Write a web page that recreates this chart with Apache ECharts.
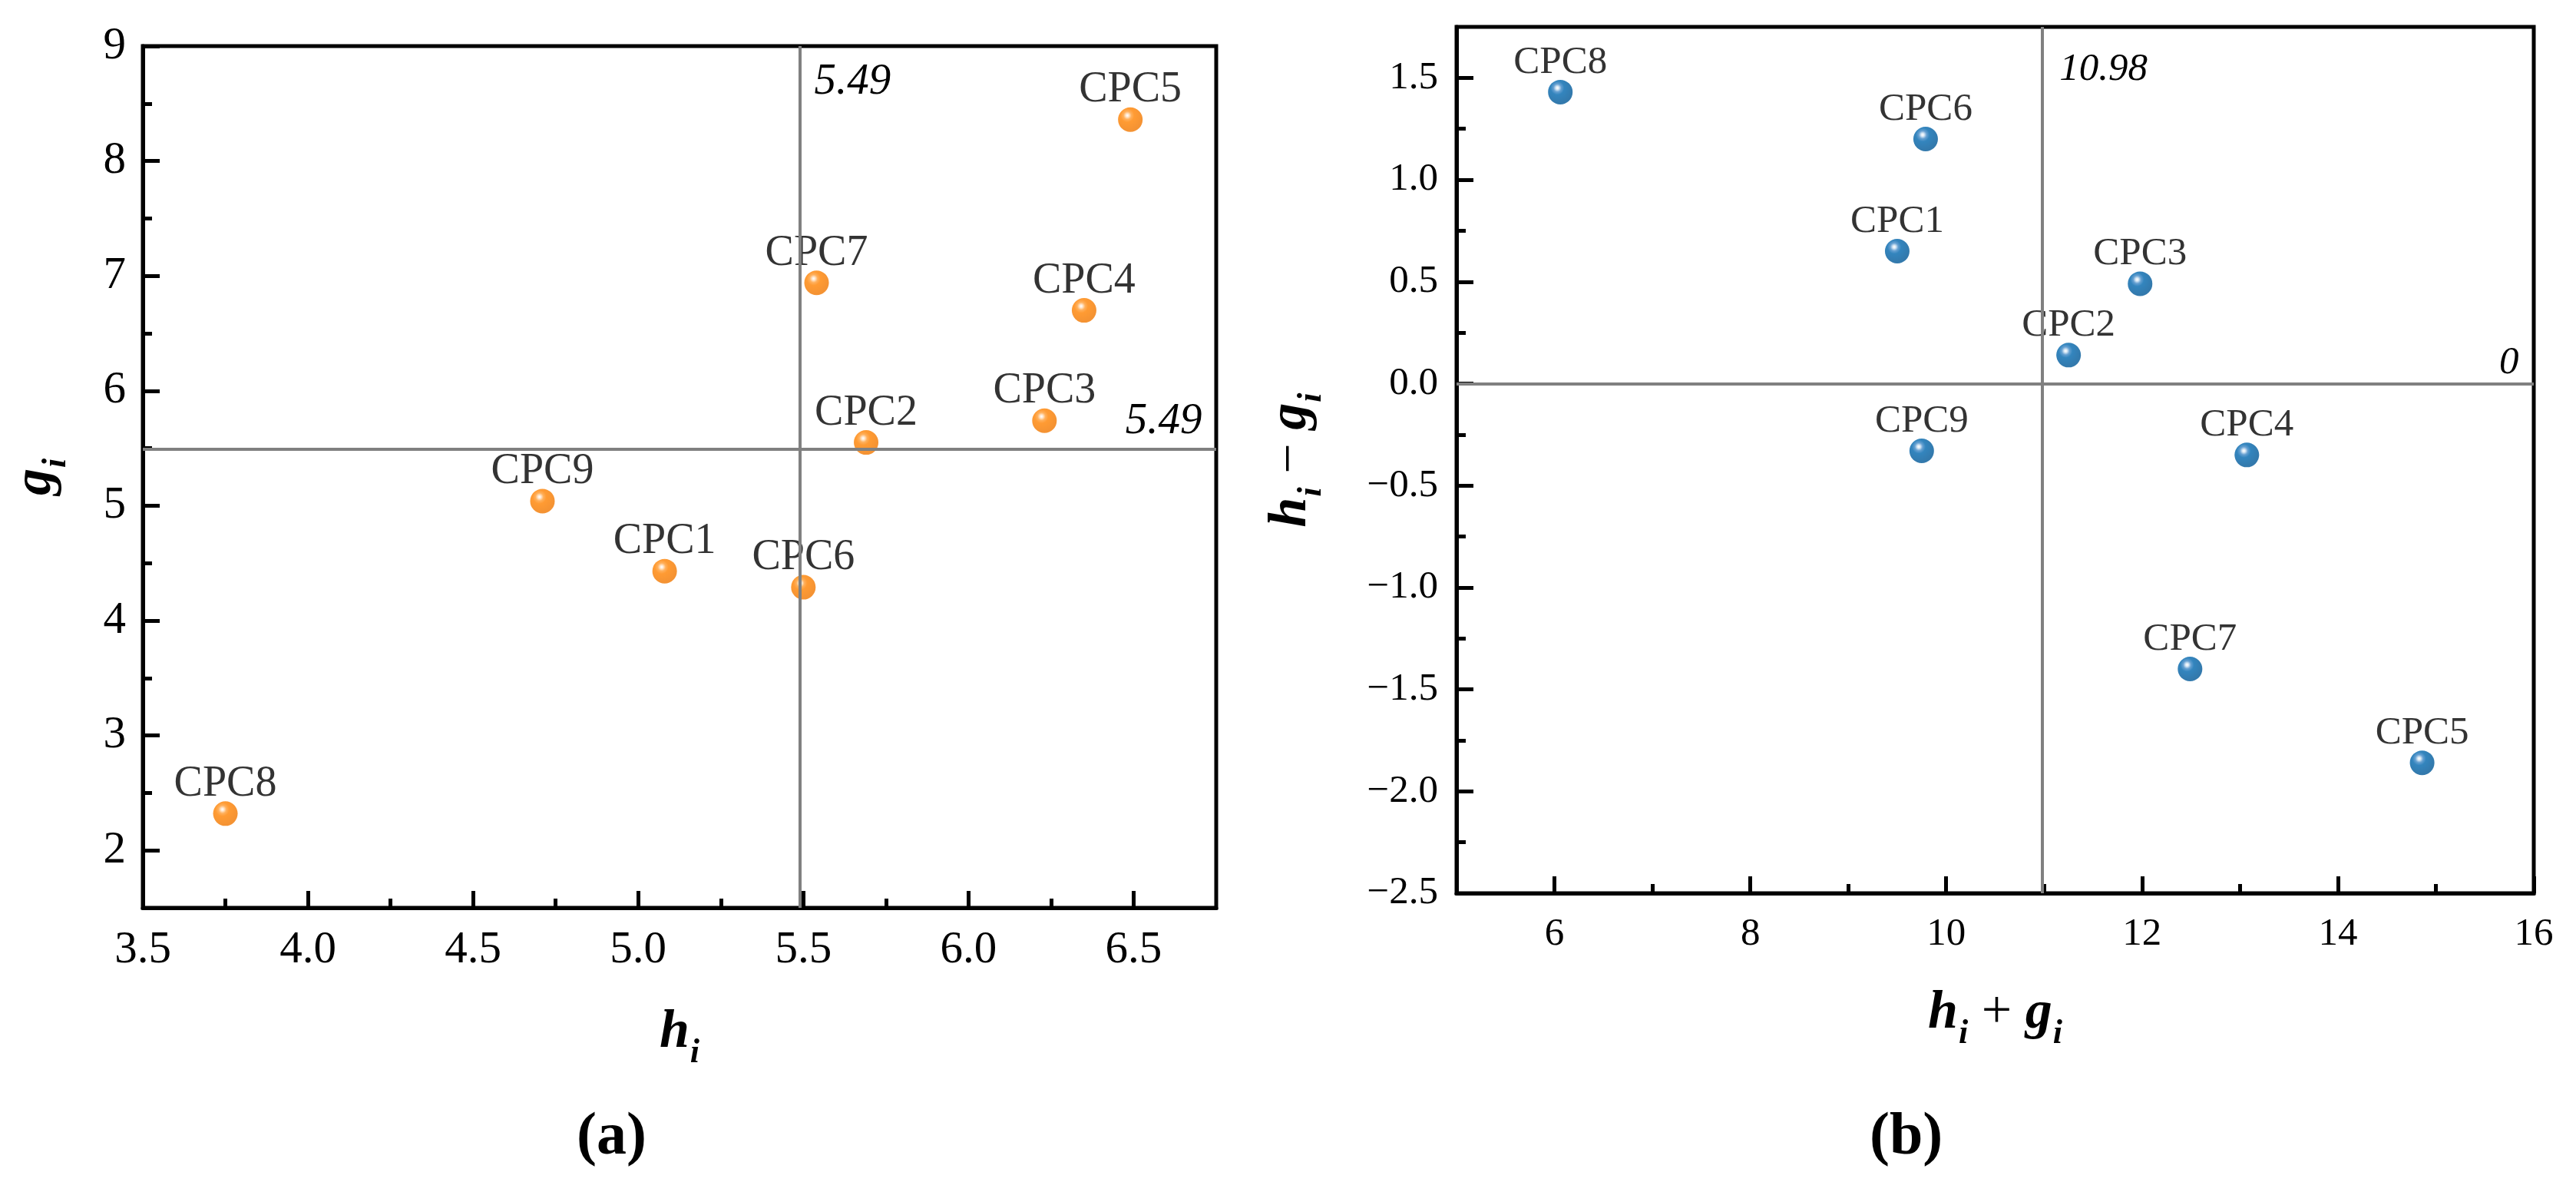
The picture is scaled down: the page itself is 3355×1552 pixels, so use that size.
<!DOCTYPE html>
<html>
<head>
<meta charset="utf-8">
<script src="https://cdn.jsdelivr.net/npm/echarts@6/dist/echarts.min.js"></script>
<style>
html, body { margin: 0; padding: 0; background: #fff; }
#main { width: 3355px; height: 1552px; }
</style>
</head>
<body>
<div id="main"></div>
<script>
// data
var names = ['CPC1', 'CPC2', 'CPC3', 'CPC4', 'CPC5', 'CPC6', 'CPC7', 'CPC8', 'CPC9'];
var hi = [5.08, 5.69, 6.23, 6.35, 6.49, 5.50, 5.54, 3.75, 4.71];
var gi = [4.43, 5.55, 5.74, 6.70, 8.36, 4.29, 6.94, 2.32, 5.04];
var hiPlusGi = [9.50, 11.25, 11.98, 13.07, 14.86, 9.79, 12.49, 6.06, 9.75];
var hiMinusGi = [0.65, 0.14, 0.49, -0.35, -1.86, 1.20, -1.40, 1.43, -0.33];

var hMean = 5.49, gMean = 5.49;
var sumMean = 10.98, diffMean = 0;

// ticks
var aXMajor = [3.5, 4.0, 4.5, 5.0, 5.5, 6.0, 6.5];
var aXMinor = [3.75, 4.25, 4.75, 5.25, 5.75, 6.25];
var aYMajor = [2, 3, 4, 5, 6, 7, 8, 9];
var aYMinor = [2.5, 3.5, 4.5, 5.5, 6.5, 7.5, 8.5];
var bXMajor = [6, 8, 10, 12, 14, 16];
var bXMinor = [7, 9, 11, 13, 15];
var bYMajor = [-2.5, -2.0, -1.5, -1.0, -0.5, 0.0, 0.5, 1.0, 1.5];
var bYMinor = [-2.25, -1.75, -1.25, -0.75, -0.25, 0.25, 0.75, 1.25];

var FONT = 'Liberation Serif';

var orangeBall = new echarts.graphic.RadialGradient(0.38, 0.33, 0.62, [
    { offset: 0, color: '#ffffff' },
    { offset: 0.1, color: '#ffe2c4' },
    { offset: 0.26, color: '#ff9c33' },
    { offset: 0.45, color: '#ff8200' },
    { offset: 1, color: '#f27800' }
]);
var blueBall = new echarts.graphic.RadialGradient(0.38, 0.33, 0.62, [
    { offset: 0, color: '#ffffff' },
    { offset: 0.1, color: '#d2e4f3' },
    { offset: 0.26, color: '#3f88c6' },
    { offset: 0.45, color: '#0066ad' },
    { offset: 1, color: '#005898' }
]);

function pts(xs, ys) {
    return names.map(function (n, i) {
        return { name: n, value: [xs[i], ys[i]] };
    });
}

function nameRich(size) {
    return {
        v: { fontFamily: FONT, fontSize: size, fontStyle: 'italic', fontWeight: 'bold', lineHeight: 80, verticalAlign: 'top', color: '#000' },
        s: { fontFamily: FONT, fontSize: 44, fontStyle: 'italic', fontWeight: 'bold', lineHeight: 50, padding: [40, 0, 0, 1], verticalAlign: 'top', color: '#000' },
        op: { fontFamily: FONT, fontSize: size, lineHeight: 80, verticalAlign: 'top', color: '#000' }
    };
}

function mainAxis(grid, pos, min, max, major, size, margin, fmt, name, gap) {
    return {
        type: 'value', gridIndex: grid, position: pos, min: min, max: max,
        name: name, nameLocation: 'middle', nameGap: gap,
        nameRotate: (pos === 'left') ? 90 : 0,
        nameTextStyle: { rich: nameRich(70) },
        axisLine: { show: true, onZero: false, lineStyle: { color: '#000', width: 5 } },
        axisTick: { show: true, inside: true, length: 22, customValues: major, lineStyle: { color: '#000', width: 5 } },
        axisLabel: { show: true, customValues: major, margin: margin, formatter: fmt, color: '#000', fontFamily: FONT, fontSize: size },
        splitLine: { show: false }
    };
}

function minorAxis(grid, pos, min, max, minor) {
    return {
        type: 'value', gridIndex: grid, position: pos, min: min, max: max,
        axisLine: { show: false, onZero: false },
        axisTick: { show: true, inside: true, length: 12, customValues: minor, lineStyle: { color: '#000', width: 5 } },
        axisLabel: { show: false },
        splitLine: { show: false }
    };
}

function refSeries(xi, yi, vx, vy, fs, labV, labH) {
    return {
        type: 'scatter', xAxisIndex: xi, yAxisIndex: yi, data: [], z: 1, silent: true,
        markLine: {
            silent: true, symbol: 'none', animation: false,
            label: { show: false },
            lineStyle: { color: '#808080', width: 4, type: 'solid' },
            data: [{ xAxis: vx }, { yAxis: vy }]
        },
        markPoint: {
            silent: true, symbol: 'circle', symbolSize: 1, animation: false,
            itemStyle: { color: 'rgba(0,0,0,0)' },
            label: { show: true, color: '#000', fontFamily: FONT, fontStyle: 'italic', fontSize: fs },
            data: [labV, labH]
        }
    };
}

var myChart = echarts.init(document.getElementById('main'));

var option = {
    backgroundColor: '#fff',
    animation: false,
    title: [
        { text: '{p|(}{b|a}{p|)}', left: 746, top: 1438, textStyle: { rich: { p: { fontFamily: FONT, fontSize: 78, color: '#000' }, b: { fontFamily: FONT, fontSize: 78, fontWeight: 'bold', color: '#000' } } } },
        { text: '{p|(}{b|b}{p|)}', left: 2430, top: 1438, textStyle: { rich: { p: { fontFamily: FONT, fontSize: 78, color: '#000' }, b: { fontFamily: FONT, fontSize: 78, fontWeight: 'bold', color: '#000' } } } }
    ],
    grid: [
        { left: 186, right: 1771, top: 60, bottom: 370, show: true, borderColor: '#000', borderWidth: 5 },
        { left: 1897, right: 55, top: 35, bottom: 389, show: true, borderColor: '#000', borderWidth: 5 }
    ],
    xAxis: [
        mainAxis(0, 'bottom', 3.5, 6.75, aXMajor, 59, 26, function (v) { return v.toFixed(1); }, '{v|h}{s|i}', 128),
        minorAxis(0, 'bottom', 3.5, 6.75, aXMinor),
        mainAxis(1, 'bottom', 5, 16, bXMajor, 51, 28, function (v) { return String(v); }, '{v|h}{s|i}{op| + }{v|g}{s|i}', 122),
        minorAxis(1, 'bottom', 5, 16, bXMinor)
    ],
    yAxis: [
        mainAxis(0, 'left', 1.5, 9, aYMajor, 59, 22, function (v) { return String(v); }, '{v|g}{s|i}', 94),
        minorAxis(0, 'left', 1.5, 9, aYMinor),
        mainAxis(1, 'left', -2.5, 1.75, bYMajor, 51, 24, function (v) { return v.toFixed(1).replace('-', '\u2212'); }, '{v|h}{s|i}{op| \u2212 }{v|g}{s|i}', 170),
        minorAxis(1, 'left', -2.5, 1.75, bYMinor)
    ],
    series: [
        refSeries(0, 0, hMean, gMean, 57,
            { coord: [hMean, 9], label: { formatter: String(hMean), position: 'right', distance: 18, offset: [0, 47] } },
            { coord: [6.75, gMean], label: { formatter: String(gMean), position: 'left', distance: 18, offset: [0, -36] } }),
        refSeries(2, 2, sumMean, diffMean, 51,
            { coord: [sumMean, 1.75], label: { formatter: String(sumMean), position: 'right', distance: 22, offset: [0, 56] } },
            { coord: [16, diffMean], label: { formatter: String(diffMean), position: 'left', distance: 19, offset: [0, -27] } }),
        {
            type: 'scatter', xAxisIndex: 0, yAxisIndex: 0, z: 3,
            symbol: 'circle', symbolSize: 32,
            itemStyle: { color: orangeBall },
            label: { show: true, position: 'top', distance: -6, formatter: '{b}', color: '#000', fontFamily: FONT, fontSize: 56 },
            data: pts(hi, gi)
        },
        {
            type: 'scatter', xAxisIndex: 2, yAxisIndex: 2, z: 3,
            symbol: 'circle', symbolSize: 32,
            itemStyle: { color: blueBall },
            label: { show: true, position: 'top', distance: -3, formatter: '{b}', color: '#000', fontFamily: FONT, fontSize: 51 },
            data: pts(hiPlusGi, hiMinusGi)
        }
    ]
};

myChart.setOption(option);

window.onresize = function () {
    myChart.resize();
};
</script>
</body>
</html>
